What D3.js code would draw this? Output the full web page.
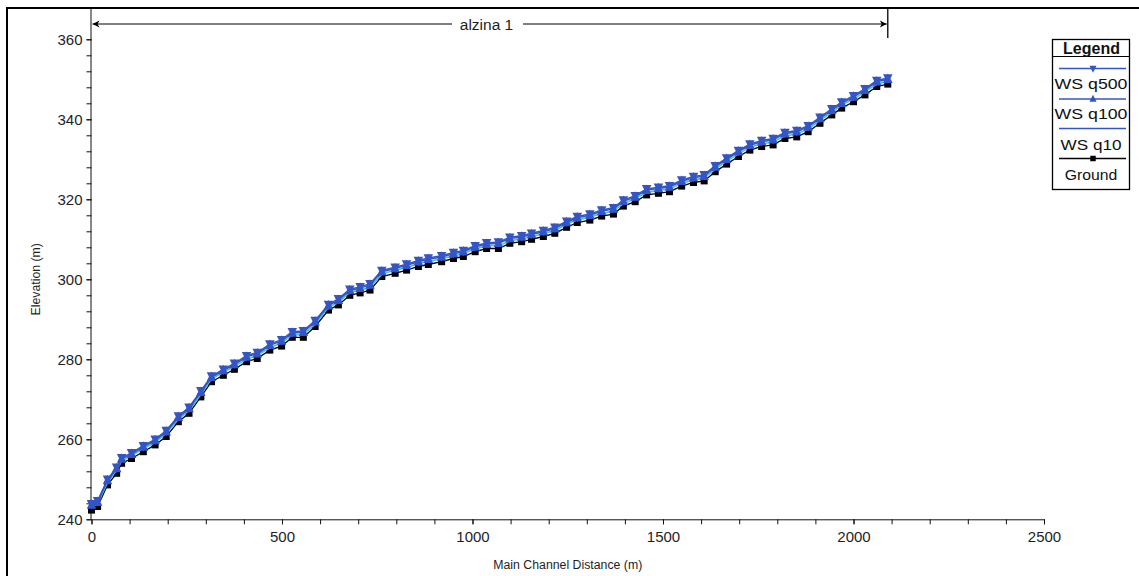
<!DOCTYPE html>
<html>
<head>
<meta charset="utf-8">
<script src="https://cdn.jsdelivr.net/npm/d3@7"></script>
<style>
  html, body { margin: 0; padding: 0; background: #fff; overflow: hidden; }
  svg { display: block; font-family: "Liberation Sans", Arial, sans-serif; }
</style>
</head>
<body>
<svg id="chart" width="1139" height="576"></svg>
<script>
// River stations along the main channel (m)
const station = [0, 16, 42, 66, 79, 105, 136, 167, 196, 228, 256, 287, 315, 346, 375, 407, 435, 468, 499, 527,
  556, 587, 622, 648, 678, 705, 731, 762, 797, 827, 858, 884, 919, 950, 976, 1007, 1037, 1068, 1098, 1129,
  1155, 1186, 1216, 1247, 1275, 1308, 1339, 1370, 1396, 1427, 1457, 1488, 1517, 1549, 1580, 1608, 1637, 1667,
  1698, 1728, 1759, 1789, 1820, 1851, 1881, 1912, 1943, 1969, 2000, 2030, 2061, 2090];

// Channel invert (m)
const ground = [242.3, 243.2, 248.6, 251.5, 254.0, 255.2, 256.9, 258.6, 260.7, 264.4, 266.5, 270.6, 274.4, 276.0,
  277.5, 279.4, 280.2, 282.3, 283.3, 285.5, 285.5, 288.2, 292.3, 293.6, 296.0, 296.6, 297.3, 300.7, 301.5, 302.3,
  303.2, 303.7, 304.4, 305.2, 305.7, 306.9, 307.7, 307.7, 309.0, 309.4, 310.0, 310.7, 311.5, 313.0, 314.2, 314.8,
  315.8, 316.3, 318.3, 319.4, 321.1, 321.5, 321.9, 323.3, 324.2, 324.6, 326.9, 328.8, 330.7, 332.3, 333.2, 333.6,
  335.2, 335.6, 336.9, 339.0, 341.1, 342.8, 344.4, 346.1, 348.2, 348.8];

// Water surface, 10-year flow (m)
const wsQ10 = [243.1, 243.9, 249.2, 252.3, 254.6, 255.9, 257.7, 259.2, 261.5, 265.0, 267.3, 271.2, 275.1, 276.7,
  278.3, 280.0, 281.0, 282.9, 284.1, 286.1, 286.3, 288.8, 293.0, 294.2, 296.8, 297.3, 298.0, 301.3, 302.3, 302.9,
  304.0, 304.4, 305.2, 305.8, 306.5, 307.5, 308.5, 308.4, 309.6, 310.2, 310.6, 311.5, 312.1, 313.8, 314.8, 315.6,
  316.4, 317.1, 318.9, 320.2, 321.7, 322.3, 322.5, 324.1, 324.8, 325.4, 327.5, 329.6, 331.3, 333.1, 333.8, 334.4,
  335.8, 336.4, 337.5, 339.8, 341.7, 343.6, 345.0, 346.9, 348.8, 349.5];

// Water surface, 100-year flow (m)
const wsQ100 = [243.6, 244.3, 249.7, 252.7, 255.1, 256.3, 258.1, 259.7, 261.9, 265.5, 267.7, 271.8, 275.5, 277.2,
  278.7, 280.6, 281.4, 283.5, 284.6, 286.6, 286.8, 289.4, 293.4, 294.8, 297.2, 297.8, 298.6, 301.9, 302.7, 303.5,
  304.4, 305.0, 305.6, 306.4, 306.9, 308.1, 308.8, 309.0, 310.2, 310.6, 311.2, 311.9, 312.7, 314.2, 315.4, 316.0,
  317.0, 317.6, 319.5, 320.6, 322.3, 322.7, 323.1, 324.5, 325.4, 325.8, 328.1, 330.0, 331.9, 333.5, 334.4, 334.9,
  336.4, 336.9, 338.1, 340.2, 342.3, 344.0, 345.6, 347.3, 349.4, 350.0];

// Water surface, 500-year flow (m)
const wsQ500 = [243.9, 244.6, 250.0, 253.0, 255.4, 256.6, 258.4, 260.0, 262.2, 265.8, 268.0, 272.1, 275.8, 277.5,
  279.0, 280.9, 281.7, 283.8, 284.9, 286.9, 287.1, 289.7, 293.7, 295.1, 297.5, 298.1, 298.9, 302.2, 303.0, 303.8,
  304.7, 305.3, 305.9, 306.7, 307.2, 308.4, 309.1, 309.3, 310.5, 310.9, 311.5, 312.2, 313.0, 314.5, 315.7, 316.3,
  317.3, 317.9, 319.8, 320.9, 322.6, 323.0, 323.4, 324.8, 325.7, 326.1, 328.4, 330.3, 332.2, 333.8, 334.7, 335.2,
  336.7, 337.2, 338.4, 340.5, 342.6, 344.3, 345.9, 347.6, 349.7, 350.3];

const xTicks = [0, 500, 1000, 1500, 2000, 2500];
const yTicks = [240, 260, 280, 300, 320, 340, 360];
const reachName = "alzina 1";
const reachStart = 0, reachEnd = 2090;
const legendLabels = ["WS  q500", "WS  q100", "WS  q10", "Ground"];

const svg = d3.select("#chart");
const W = 1139, H = 576;
const blue = "#3455c6", cyan = "#3cc3dc";
const txt = "#1e1e1e";

// outer frame (right and bottom edges run past the page)
svg.append("rect").attr("x", 7).attr("y", 8).attr("width", W + 10).attr("height", H + 10)
  .attr("fill", "none").attr("stroke", "#000").attr("stroke-width", 2);

const x = d3.scaleLinear().domain([0, 2500]).range([91.5, 1044]);
const y = d3.scaleLinear().domain([240, 360]).range([519.3, 39.3]);
const plotTop = 9;

// x axis
const gx = svg.append("g").attr("transform", `translate(0,${y(240)})`);
gx.call(d3.axisBottom(x).tickValues(xTicks).tickSize(5).tickPadding(7).tickFormat(d3.format("d")));
gx.append("g").call(d3.axisBottom(x).tickValues(d3.range(0, 2501, 100)).tickSize(5).tickFormat(""))
  .select(".domain").remove();
// y axis
const gy = svg.append("g").attr("transform", `translate(${x(0)},0)`);
gy.call(d3.axisLeft(y).tickValues(yTicks).tickSize(5).tickPadding(4).tickFormat(d3.format("d")));
gy.append("g").call(d3.axisLeft(y).tickValues(d3.range(240, 361, 4)).tickSize(5).tickFormat(""))
  .select(".domain").remove();
gy.select(".domain").attr("d", `M-0.5,${y(240)}V${plotTop}`);
gx.select(".domain").attr("d", `M${x(0)},0.5H${x(2500)}`);

svg.selectAll(".tick text").attr("font-size", 15).attr("fill", txt)
  .attr("font-family", "'Liberation Sans', Arial, sans-serif");
svg.selectAll(".domain, .tick line").attr("stroke", "#111");

// axis titles
svg.append("text").attr("x", (x(0) + x(2500)) / 2).attr("y", 569).attr("text-anchor", "middle")
  .attr("font-size", 12.3).attr("fill", txt).text("Main Channel Distance (m)");
svg.append("text").attr("transform", `translate(40,${(y(240) + y(360)) / 2}) rotate(-90)`)
  .attr("text-anchor", "middle").attr("font-size", 12.3).attr("fill", txt).text("Elevation (m)");

// reach annotation
const annY = 24;
const x0 = x(reachStart), x1 = x(reachEnd);
svg.append("line").attr("x1", x1).attr("x2", x1).attr("y1", plotTop).attr("y2", 38)
  .attr("stroke", "#000").attr("stroke-width", 1.3);
const midX = (x0 + x1) / 2;
svg.append("line").attr("x1", x0 + 1).attr("x2", 452).attr("y1", annY).attr("y2", annY).attr("stroke", "#000");
svg.append("line").attr("x1", 523).attr("x2", x1 - 1).attr("y1", annY).attr("y2", annY).attr("stroke", "#000");
svg.append("path").attr("d", `M${x0 + 1},${annY}l7,-3.5l-2,3.5l2,3.5z`).attr("fill", "#000");
svg.append("path").attr("d", `M${x1 - 1},${annY}l-7,-3.5l2,3.5l-2,3.5z`).attr("fill", "#000");
svg.append("text").attr("x", 486.5).attr("y", annY + 5.5).attr("text-anchor", "middle")
  .attr("font-size", 15.5).attr("fill", txt).text(reachName);

// series
const toPts = vals => station.map((s, i) => [x(s), y(vals[i])]);
const line = d3.line();
const plot = svg.append("g");

function drawSeries(vals, color, shape, size, width) {
  const pts = toPts(vals);
  plot.append("path").attr("d", line(pts)).attr("fill", "none").attr("stroke", color).attr("stroke-width", width);
  if (shape) {
    plot.append("g").selectAll("path").data(pts).join("path")
      .attr("transform", d => `translate(${d[0]},${d[1]})`)
      .attr("d", shape(size)).attr("fill", color);
  }
}
const sq = s => `M${-s / 2},${-s / 2}h${s}v${s}h${-s}z`;
const triUp = s => `M0,${-s * 0.6}L${s / 2},${s * 0.4}L${-s / 2},${s * 0.4}z`;
const triDown = s => `M0,${s * 0.6}L${s / 2},${-s * 0.4}L${-s / 2},${-s * 0.4}z`;

drawSeries(ground, "#000", sq, 7, 1.3);
drawSeries(wsQ10, cyan, null, 0, 1.6);
drawSeries(wsQ100, blue, triUp, 9.5, 1.5);
drawSeries(wsQ500, blue, triDown, 9.5, 1.5);

// legend
const lg = svg.append("g");
const lx0 = 1052.5, lx1 = 1129.5, ly0 = 39.5, ly1 = 189.5;
const lcx = (lx0 + lx1) / 2;
lg.append("rect").attr("x", lx0).attr("y", ly0).attr("width", lx1 - lx0).attr("height", ly1 - ly0)
  .attr("fill", "#fff").attr("stroke", "#000").attr("stroke-width", 1.3);
lg.append("line").attr("x1", lx0).attr("x2", lx1).attr("y1", 56.5).attr("y2", 56.5).attr("stroke", "#000");
lg.append("text").attr("x", lcx + 0.5).attr("y", 53.5).attr("text-anchor", "middle")
  .attr("font-size", 16).attr("font-weight", "bold").attr("fill", "#111").text("Legend");
const legItems = [
  { color: blue, shape: triDown, size: 7, ly: 68.5, ty: 89, w: 73 },
  { color: blue, shape: triUp, size: 7, ly: 99, ty: 119, w: 73 },
  { color: blue, shape: null, size: 0, ly: 128.5, ty: 149.5, w: 61 },
  { color: "#000", shape: sq, size: 5.5, ly: 158.5, ty: 179.5, w: 52.5 }
];
legItems.forEach((it, i) => {
  lg.append("line").attr("x1", 1059).attr("x2", 1126).attr("y1", it.ly).attr("y2", it.ly)
    .attr("stroke", it.color).attr("stroke-width", 1.4);
  if (it.shape) {
    lg.append("path").attr("transform", `translate(1093,${it.ly})`).attr("d", it.shape(it.size)).attr("fill", it.color);
  }
  lg.append("text").attr("x", lcx).attr("y", it.ty).attr("text-anchor", "middle")
    .attr("font-size", 15.5).attr("fill", "#111")
    .attr("textLength", it.w).attr("lengthAdjust", "spacingAndGlyphs").text(legendLabels[i]);
});
</script>
</body>
</html>
